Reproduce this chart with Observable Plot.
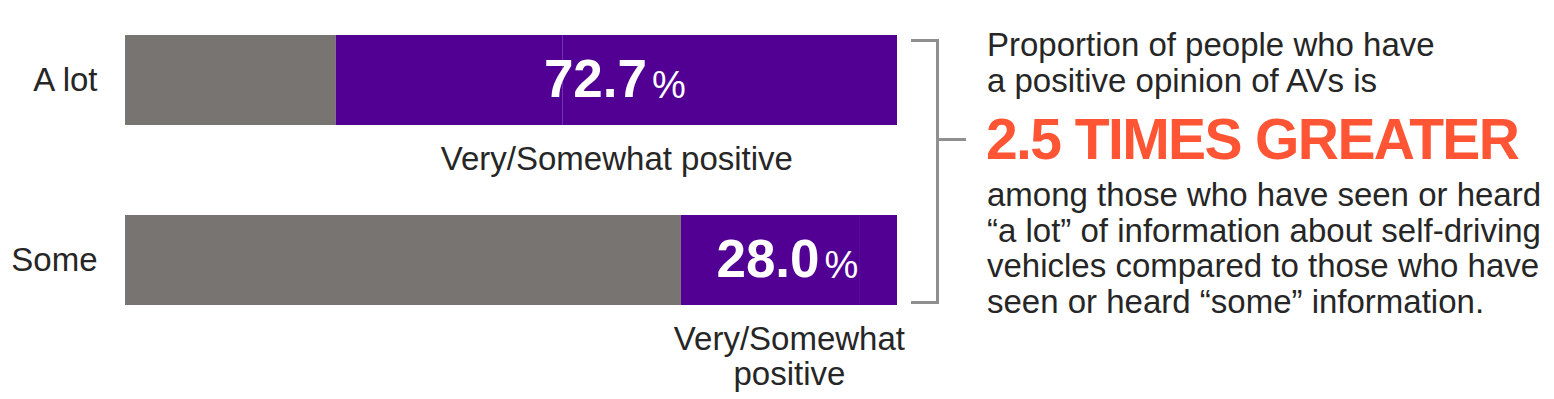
<!DOCTYPE html>
<html>
<head>
<meta charset="utf-8">
<script src="https://cdn.jsdelivr.net/npm/d3@7"></script>
<script src="https://cdn.jsdelivr.net/npm/@observablehq/plot@0.6"></script>
<style>
  html, body { margin: 0; padding: 0; background: #ffffff; }
  #wrap { position: relative; width: 1554px; height: 399px; overflow: hidden;
          font-family: "Liberation Sans", Arial, sans-serif; color: #262626; }
  #chart { position: absolute; left: 0; top: 0; }
  .txt { position: absolute; left: 987px; font-size: 33px; line-height: 35.5px; white-space: nowrap; color: #262626; }
  .big { position: absolute; left: 986px; font-size: 57px; line-height: 57px; font-weight: bold;
         letter-spacing: -1.6px; color: #ff5534; white-space: nowrap; }
  .bracket { position: absolute; left: 911px; top: 39px; width: 25px; height: 259px;
             border-top: 3px solid #8f8f8f; border-right: 3px solid #8f8f8f; border-bottom: 3px solid #8f8f8f; }
  .tick { position: absolute; left: 939px; top: 138px; width: 27px; height: 3px; background: #8f8f8f; }
</style>
</head>
<body>
<div id="wrap">
  <div id="chart"></div>
  <div class="bracket"></div>
  <div class="tick"></div>
  <div class="txt" style="top:27px">Proportion of people who have<br>a positive opinion of AVs is</div>
  <div class="big" style="top:111px">2.5 TIMES GREATER</div>
  <div class="txt" style="top:177px">among those who have seen or heard<br>“a lot” of information about self-driving<br>vehicles compared to those who have<br>seen or heard “some” information.</div>
</div>
<script>
// Data
const categories = ["A lot", "Some"];
const segments = ["Not positive", "Somewhat positive", "Very positive"];
const notPositive = [27.3, 72.0];
const somewhatPositive = [29.4, 23.2];
const veryPositive = [43.3, 4.8];
const positiveTotals = [72.7, 28.0];
const positiveLabels = ["Very/Somewhat positive", "Very/Somewhat\npositive"];
const segmentColors = ["#787472", "#520094", "#520094"];

const rows = [];
categories.forEach((c, i) => {
  rows.push({category: c, segment: segments[0], value: notPositive[i]});
  rows.push({category: c, segment: segments[1], value: somewhatPositive[i]});
  rows.push({category: c, segment: segments[2], value: veryPositive[i]});
});
const labels = categories.map((c, i) => ({
  category: c,
  start: notPositive[i],
  split: notPositive[i] + somewhatPositive[i],
  center: notPositive[i] + positiveTotals[i] / 2,
  total: positiveTotals[i],
  label: positiveLabels[i]
}));

const chart = Plot.plot({
  width: 960,
  height: 399,
  marginLeft: 125,
  marginRight: 63,
  style: {fontFamily: "Liberation Sans, Arial, sans-serif", color: "#262626", background: "transparent", overflow: "visible"},
  x: {domain: [0, 100], range: [125, 897], axis: null},
  y: {domain: categories, range: [35, 305], paddingInner: 0.5, paddingOuter: 0, label: null},
  color: {domain: segments, range: segmentColors},
  marks: [
    Plot.barX(rows, {x: "value", y: "category", fill: "segment", inset: 0}),
    Plot.ruleX(labels, {x: "split", y: "category", stroke: "#6a30b0", strokeWidth: 1}),
    Plot.axisY({tickSize: 0, tickPadding: 28, fontSize: 33, fill: "#262626", label: null}),
    Plot.text(labels, {x: "center", y: "category", text: d => d.total.toFixed(1), textAnchor: "start", dx: -73,
      fill: "white", fontSize: 53, fontWeight: "bold"}),
    Plot.text(labels, {x: "center", y: "category", text: d => "%", textAnchor: "start", dx: 35, dy: 5,
      fill: "white", fontSize: 38}),
    Plot.text(labels, {x: "center", y: "category", text: "label", lineAnchor: "top", dy: 64.6,
      lineHeight: 1.06, fontSize: 33, fill: "#262626"})
  ]
});
document.getElementById("chart").appendChild(chart);
</script>
</body>
</html>
